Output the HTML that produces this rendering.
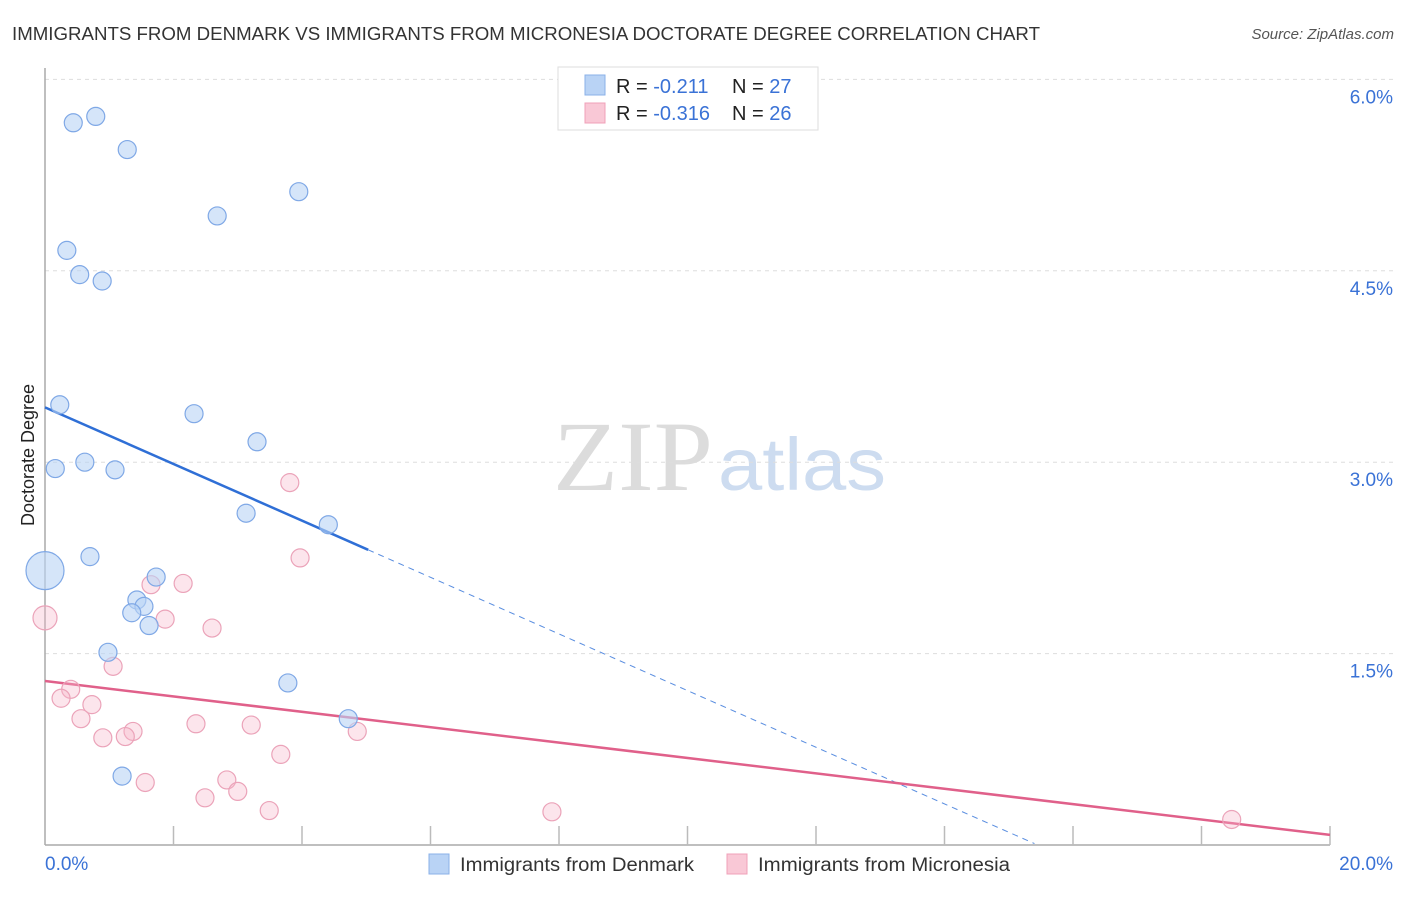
<!DOCTYPE html>
<html><head><meta charset="utf-8"><style>
body{margin:0;background:#fff;font-family:"Liberation Sans",sans-serif;}
</style></head><body>
<svg id="chart" width="1406" height="892" xmlns="http://www.w3.org/2000/svg">
<text x="12" y="40" font-size="18" fill="#333" textLength="1028" lengthAdjust="spacingAndGlyphs">IMMIGRANTS FROM DENMARK VS IMMIGRANTS FROM MICRONESIA DOCTORATE DEGREE CORRELATION CHART</text>
<text x="1394" y="39" font-size="15" fill="#555" font-style="italic" text-anchor="end">Source: ZipAtlas.com</text>
<text x="553" y="490" font-size="100" fill="#dcdcdc" font-family="Liberation Serif,serif" textLength="160" lengthAdjust="spacingAndGlyphs">ZIP</text>
<text x="718" y="490" font-size="74" fill="#cddcf0" textLength="168" lengthAdjust="spacingAndGlyphs">atlas</text>
<text transform="translate(34,455) rotate(-90)" font-size="18" fill="#222" text-anchor="middle">Doctorate Degree</text>
<g id="grid"></g><g id="axes"></g><g id="lines"></g><g id="pts"></g>
<g>
<rect x="558" y="67" width="260" height="63" fill="#fff" stroke="#ddd"/>
<rect x="585" y="75" width="20" height="20" fill="#b9d3f5" stroke="#8ab0e8"/>
<rect x="585" y="103" width="20" height="20" fill="#f9c8d6" stroke="#f0a0b8"/>
<text x="616" y="93" font-size="20" fill="#222">R = <tspan fill="#3a72d6"> -0.211</tspan><tspan x="732">N = </tspan><tspan fill="#3a72d6">27</tspan></text>
<text x="616" y="120" font-size="20" fill="#222">R = <tspan fill="#3a72d6">-0.316</tspan><tspan x="732">N = </tspan><tspan fill="#3a72d6">26</tspan></text>
</g>
<g>
<rect x="429" y="854" width="20" height="20" fill="#b9d3f5" stroke="#8ab0e8"/>
<text x="460" y="871" font-size="19" fill="#333" textLength="234" lengthAdjust="spacingAndGlyphs">Immigrants from Denmark</text>
<rect x="727" y="854" width="20" height="20" fill="#f9c8d6" stroke="#f0a0b8"/>
<text x="758" y="871" font-size="19" fill="#333" textLength="252" lengthAdjust="spacingAndGlyphs">Immigrants from Micronesia</text>
</g>
</svg>
<script>
const yTicks=[1.5,3.0,4.5,6.0];
const xTickLabels=["0.0%","20.0%"];
const denX=[0.44,0.79,1.28,3.95,2.68,0.34,0.54,0.89,0.23,2.32,3.30,0.16,0.62,1.09,3.13,4.41,0.70,0.0,1.73,1.43,1.54,1.35,1.62,0.98,3.78,4.72,1.20];
const denY=[5.66,5.71,5.45,5.12,4.93,4.66,4.47,4.42,3.45,3.38,3.16,2.95,3.00,2.94,2.60,2.51,2.26,2.15,2.10,1.92,1.87,1.82,1.72,1.51,1.27,0.99,0.54];
const denR=[9,9,9,9,9,9,9,9,9,9,9,9,9,9,9,9,9,19,9,9,9,9,9,9,9,9,9];
const micX=[0.0,3.81,3.97,2.15,1.65,1.87,2.60,1.06,0.40,0.25,0.73,0.56,2.35,3.21,1.37,0.90,1.25,4.86,3.67,1.56,2.83,3.00,2.49,3.49,7.89,18.47];
const micY=[1.78,2.84,2.25,2.05,2.04,1.77,1.70,1.40,1.22,1.15,1.10,0.99,0.95,0.94,0.89,0.84,0.85,0.89,0.71,0.49,0.51,0.42,0.37,0.27,0.26,0.20];
const micR=[12,9,9,9,9,9,9,9,9,9,9,9,9,9,9,9,9,9,9,9,9,9,9,9,9,9];
const denTrend=[3.43,-0.222];
const micTrend=[1.285,-0.0603];
const NS="http://www.w3.org/2000/svg";
const X=v=>45+v*64.25, Y=v=>845-v*127.6;
function mk(t,a,p){const e=document.createElementNS(NS,t);for(const k in a)e.setAttribute(k,a[k]);p.appendChild(e);return e;}
const grid=document.getElementById('grid'),axes=document.getElementById('axes'),lines=document.getElementById('lines'),pts=document.getElementById('pts');
yTicks.forEach(t=>{
 const l=mk('line',{x1:45,x2:1395,y1:Y(t),y2:Y(t),stroke:'#ddd','stroke-dasharray':'4,4'},grid);
 
 
 const tx=mk('text',{x:1393,y:Y(t)+24,'font-size':19,fill:'#3a72d6','text-anchor':'end'},grid);tx.textContent=t.toFixed(1)+'%';
 
 
});
mk('line',{x1:45,x2:45,y1:68,y2:845,stroke:'#aaa','stroke-width':1.5},axes);
mk('line',{x1:45,x2:1330,y1:845,y2:845,stroke:'#aaa','stroke-width':1.5},axes);
for(let i=1;i<=10;i++){mk('line',{x1:X(2*i),x2:X(2*i),y1:826,y2:845,stroke:'#bbb','stroke-width':1.5},axes);}
[[0,'start',45],[20,'end',1393]].forEach((d,i)=>{const t=mk('text',{x:d[2],y:870,'font-size':19,fill:'#3a72d6','text-anchor':d[1]},axes);t.textContent=xTickLabels[i];
 
 });
function tl(tr,x0,x1,col,dash){const e=mk('line',{x1:X(x0),y1:Y(tr[0]+tr[1]*x0),x2:X(x1),y2:Y(tr[0]+tr[1]*x1),stroke:col,'stroke-width':dash?1:2.5},lines);if(dash)e.setAttribute('stroke-dasharray','6,5');return e;}
let e=tl(denTrend,0,5.03,'#2f6fd6',false);


e=tl(denTrend,5.03,15.4,'#5a8ee0',true);


e=tl(micTrend,0,20,'#e0608a',false);


micX.forEach((x,i)=>{const c=mk('circle',{cx:X(x),cy:Y(micY[i]),r:micR[i],fill:'rgba(246,180,200,0.35)',stroke:'#eba3b9','stroke-width':1.2},pts);
 
 });
denX.forEach((x,i)=>{const c=mk('circle',{cx:X(x),cy:Y(denY[i]),r:denR[i],fill:'rgba(185,211,245,0.6)',stroke:'#7fa8e6','stroke-width':1.2},pts);
 
 });
</script>
</body></html>
